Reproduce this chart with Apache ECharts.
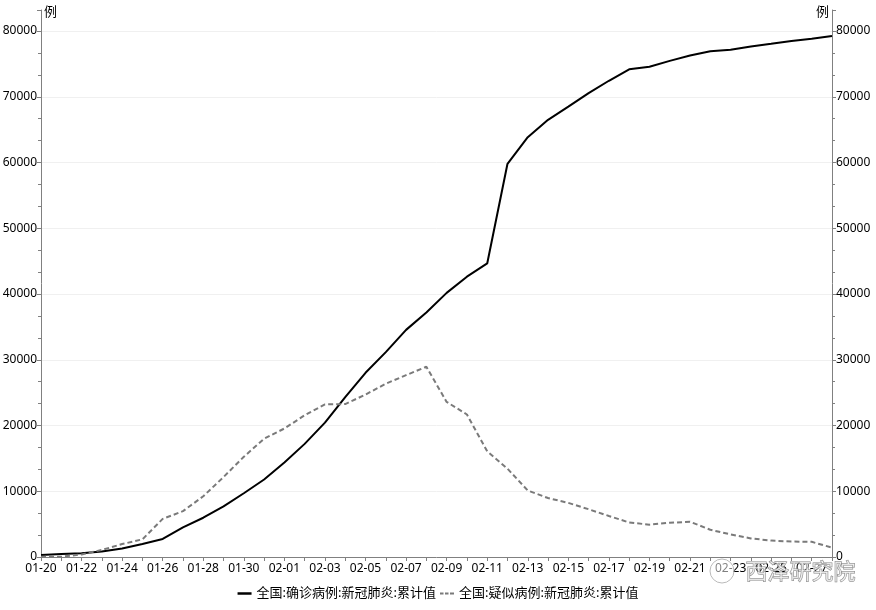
<!DOCTYPE html>
<html><head><meta charset="utf-8">
<script src="https://cdn.jsdelivr.net/npm/echarts@6/dist/echarts.min.js"></script>
<style>html,body{margin:0;padding:0;background:#fff}#c{width:876px;height:610px}</style>
</head><body><div id="c"></div>
<script>
const dates = ['01-20','01-21','01-22','01-23','01-24','01-25','01-26','01-27','01-28','01-29','01-30','01-31',
'02-01','02-02','02-03','02-04','02-05','02-06','02-07','02-08','02-09','02-10','02-11','02-12','02-13','02-14',
'02-15','02-16','02-17','02-18','02-19','02-20','02-21','02-22','02-23','02-24','02-25','02-26','02-27','02-28'];
const confirmed = [291,440,571,830,1287,1975,2744,4515,5974,7711,9692,11791,14380,17205,20438,24324,28018,31161,34546,37198,
40171,42638,44653,59804,63851,66492,68500,70548,72436,74185,74576,75465,76288,76936,77150,77658,78064,78497,78824,79251];
const suspected = [54,37,393,1072,1965,2684,5794,6973,9239,12167,15238,17988,19544,21558,23214,23260,24702,26359,27657,28942,
23589,21675,16067,13435,10109,8969,8228,7264,6242,5248,4922,5206,5365,4148,3434,2824,2491,2358,2308,1418];
const seriesNames = ['全国:确诊病例:新冠肺炎:累计值','全国:疑似病例:新冠肺炎:累计值'];
const yUnit = '例';

const FONT = "'Noto Sans','Noto Sans CJK SC',sans-serif";
const axisColor = '#808080';
const gridColors = ['#f0f0f0','#f0f0f0','#f0f0f0','#f0f0f0','#f0f0f0','#f0f0f0','#f0f0f0','#f0f0f0','#f0f0f0','rgba(0,0,0,0)'];
function yAxisCfg(pos){
  return {
    type:'value', position:pos, min:0, max:83200, interval:10000,
    name:yUnit, nameLocation:'end', nameGap:-9,
    nameTextStyle:{color:'#000',fontSize:13,fontFamily:FONT,align:pos==='left'?'left':'right',padding:pos==='left'?[0,0,0,3]:[0,3,0,0]},
    axisLine:{show:true,lineStyle:{color:axisColor,width:1}},
    axisTick:{show:true,length:4,lineStyle:{color:axisColor}},
    minorTick:{show:true,splitNumber:3,length:3,lineStyle:{color:axisColor}},
    axisLabel:{color:'#000',fontSize:12,fontFamily:FONT,margin:4,showMaxLabel:false,
      formatter:v=> (v%10000===0? String(v):'')},
    splitLine:{show:pos==='left',lineStyle:{color:gridColors,width:1}}
  };
}
const chart = echarts.init(document.getElementById('c'),null,{renderer:'canvas'});
chart.setOption({
  backgroundColor:'#fff',
  animation:false,
  grid:{left:41,right:44,top:10,bottom:53,containLabel:false,outerBoundsMode:'none'},
  legend:{bottom:5,left:'center',itemWidth:14,itemHeight:10,itemGap:4,
    textStyle:{color:'#000',fontSize:13,fontFamily:FONT},
    data:[
      {name:seriesNames[0],icon:'path://M0,4 L14,4 L14,6.5 L0,6.5 Z',itemStyle:{color:'#000'}},
      {name:seriesNames[1],icon:'path://M0,4 L3.5,4 L3.5,6 L0,6 Z M5,4 L8.5,4 L8.5,6 L5,6 Z M10,4 L14,4 L14,6 L10,6 Z',itemStyle:{color:'#7a7a7a'}}
    ]},
  xAxis:{type:'category',data:dates,boundaryGap:false,
    axisLine:{lineStyle:{color:axisColor}},
    axisTick:{show:true,interval:0,length:4,lineStyle:{color:axisColor}},
    axisLabel:{interval:1,color:'#000',fontSize:12,fontFamily:FONT,margin:6}},
  yAxis:[yAxisCfg('left'),yAxisCfg('right')],
  series:[
    {name:seriesNames[0],type:'line',data:confirmed,yAxisIndex:0,symbol:'none',
      lineStyle:{color:'#000',width:2},itemStyle:{color:'#000'}},
    {name:seriesNames[1],type:'line',data:suspected,yAxisIndex:1,symbol:'none',
      lineStyle:{color:'#7a7a7a',width:2,type:[5,3]},itemStyle:{color:'#7a7a7a'}}
  ],
  graphic:[
    {type:'circle',shape:{cx:722,cy:571,r:12},style:{fill:'rgba(255,255,255,0.5)',stroke:'#bbb',lineWidth:1},z:100},
    {type:'text',left:745,top:559,style:{text:'西泽研究院',fill:'rgba(255,255,255,0.6)',stroke:'#888',lineWidth:1,
      font:"22px 'Noto Sans CJK SC',sans-serif"},z:100}
  ]
});
</script></body></html>
